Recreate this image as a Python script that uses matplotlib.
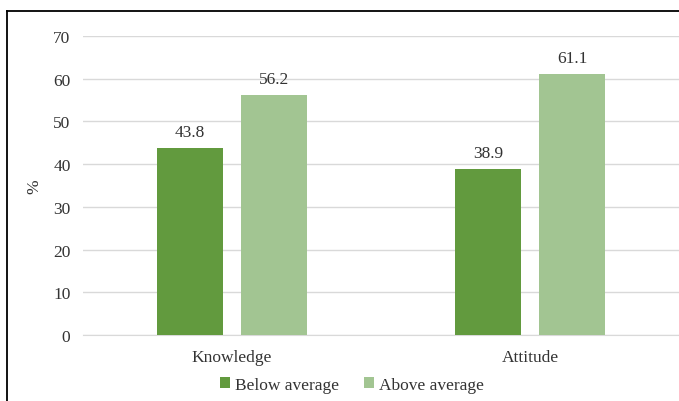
import numpy as np
import matplotlib
matplotlib.use('Agg')
import matplotlib.pyplot as plt
from matplotlib.lines import Line2D

categories = ['Knowledge', 'Attitude']
series_names = ['Below average', 'Above average']
below = [43.8, 38.9]
above = [56.2, 61.1]
yticks = [0, 10, 20, 30, 40, 50, 60, 70]

colors = ['#629a3e', '#a2c592']
fs = 12.5

plt.rcParams['font.family'] = ['Liberation Serif', 'DejaVu Serif']

fig = plt.figure(figsize=(6.79, 4.02), dpi=100)
ax = fig.add_axes([83 / 679, 1 - 336 / 402, 1 - 83 / 679, (336 - 37) / 402])

x = np.arange(len(categories))
w = 0.222
off = 0.141
for vals, dx, c, name in [(below, -off, colors[0], series_names[0]),
                          (above, off, colors[1], series_names[1])]:
    bars = ax.bar(x + dx, vals, width=w, color=c, label=name, zorder=3)
    for b, v in zip(bars, vals):
        ax.text(b.get_x() + b.get_width() / 2, v + 1.8, f'{v:.1f}',
                ha='center', va='bottom', fontsize=fs, color='#333333')

ax.set_xlim(-0.5, 1.5)
ax.set_ylim(0, 70)
ax.set_yticks(yticks)
ax.set_xticks(x)
ax.set_xticklabels(categories, fontsize=fs, color='#333333')
ax.tick_params(axis='y', labelsize=fs, colors='#333333', length=0, pad=9)
ax.tick_params(axis='x', length=0, pad=10)
ax.grid(axis='y', color='#d9d9d9', linewidth=1, zorder=0)
for s in ['top', 'right', 'left']:
    ax.spines[s].set_visible(False)
ax.spines['bottom'].set_color('#d9d9d9')
ax.set_ylabel('%', fontsize=fs, color='#333333', labelpad=8)

leg = ax.legend(loc='upper center', bbox_to_anchor=(0.451, -0.088), ncol=2,
                frameon=False, fontsize=fs, handlelength=0.6, handleheight=0.6,
                handletextpad=0.3, columnspacing=1.4)
for t in leg.get_texts():
    t.set_color('#333333')

# outer frame
fig.add_artist(Line2D([7 / 679, 7 / 679], [0, 1 - 12 / 402], transform=fig.transFigure,
                      color='black', linewidth=1.3))
fig.add_artist(Line2D([7 / 679, 1], [1 - 12 / 402, 1 - 12 / 402], transform=fig.transFigure,
                      color='black', linewidth=1.3))

fig.savefig('out.png', dpi=100)
